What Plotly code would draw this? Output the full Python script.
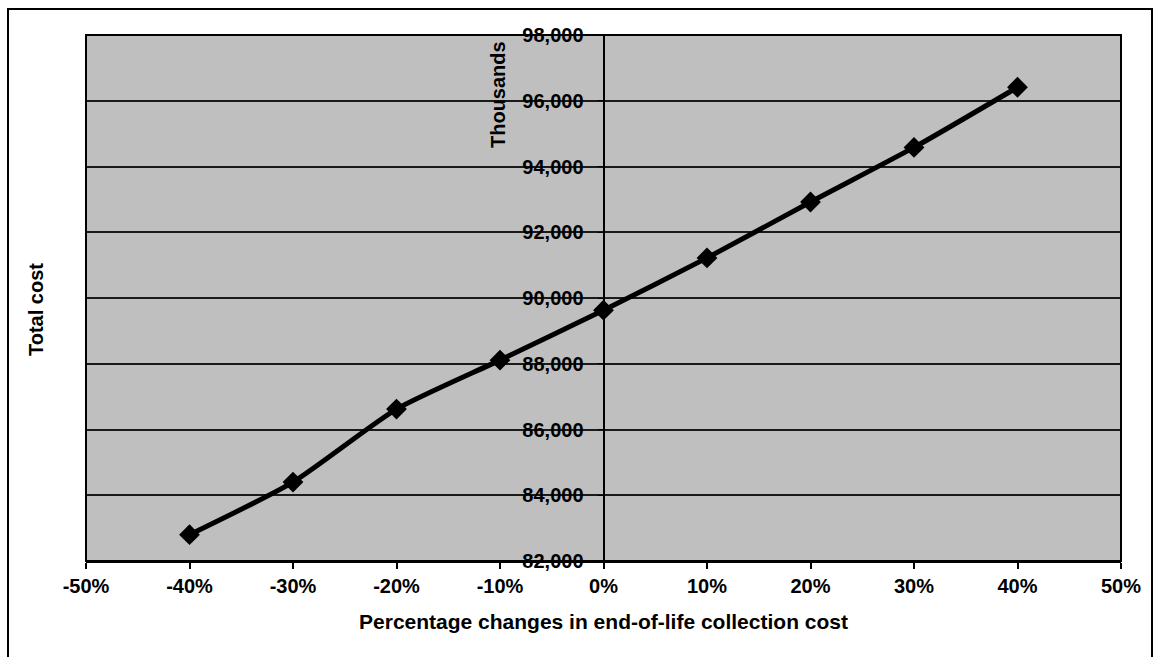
import plotly.graph_objects as go

# Sensitivity of total cost to changes in end-of-life collection cost
pct_change = [-0.40, -0.30, -0.20, -0.10, 0.00, 0.10, 0.20, 0.30, 0.40]
total_cost_thousands = [82800, 84400, 86620, 88110, 89630, 91220, 92920, 94580, 96410]

x_ticks = [-0.5, -0.4, -0.3, -0.2, -0.1, 0.0, 0.1, 0.2, 0.3, 0.4, 0.5]
x_tick_labels = ["-50%", "-40%", "-30%", "-20%", "-10%", "0%",
                 "10%", "20%", "30%", "40%", "50%"]
y_ticks = [82000, 84000, 86000, 88000, 90000, 92000, 94000, 96000, 98000]

W, H = 1156, 657
ML, MR, MT, MB = 86, 35, 35, 96
PW, PH = W - ML - MR, H - MT - MB

FONT = "Liberation Sans, Arial, sans-serif"


def px_to_paper_x(px):
    return (px - ML) / PW


def px_to_paper_y(py):
    return (H - MB - py) / PH


fig = go.Figure()
fig.add_trace(go.Scatter(
    x=pct_change,
    y=total_cost_thousands,
    mode="lines+markers",
    line=dict(color="black", width=5, shape="spline", smoothing=0.6),
    marker=dict(symbol="diamond", size=16, color="black"),
    showlegend=False,
    hoverinfo="x+y",
))

fig.update_layout(
    width=W,
    height=H,
    margin=dict(l=ML, r=MR, t=MT, b=MB),
    paper_bgcolor="white",
    plot_bgcolor="#bfbfbf",
    font=dict(family=FONT, size=20, color="black"),
    xaxis=dict(
        range=[-0.5, 0.5],
        tickvals=x_ticks,
        ticktext=x_tick_labels,
        showgrid=False,
        zeroline=False,
        showline=True,
        linecolor="black",
        linewidth=2,
        ticks="outside",
        ticklen=6,
        tickwidth=1.5,
        tickcolor="black",
        tickfont=dict(family=FONT, size=20, color="black", weight="bold"),
        title=dict(
            text="<b>Percentage changes in end-of-life collection cost</b>",
            font=dict(family=FONT, size=21, color="black"),
            standoff=18,
        ),
    ),
    yaxis=dict(
        range=[82000, 98000],
        tickvals=y_ticks,
        tickformat=",",
        anchor="free",
        position=0.5,
        showgrid=True,
        gridcolor="#1a1a1a",
        gridwidth=2,
        zeroline=False,
        showline=True,
        linecolor="black",
        linewidth=2,
        ticks="outside",
        ticklen=5,
        tickcolor="black",
        ticklabelstandoff=10,
        tickfont=dict(family=FONT, size=20, color="black", weight="bold"),
    ),
    shapes=[
        # plot-area border
        dict(type="rect", xref="paper", yref="paper", x0=0, x1=1, y0=0, y1=1,
             line=dict(color="black", width=2), layer="above"),
        # outer chart frame
        dict(type="rect", xref="paper", yref="paper",
             x0=px_to_paper_x(8), x1=px_to_paper_x(1152),
             y0=px_to_paper_y(700), y1=px_to_paper_y(9),
             line=dict(color="black", width=2), layer="above"),
    ],
    annotations=[
        dict(text="<b>Total cost</b>", textangle=-90,
             xref="paper", yref="paper",
             x=px_to_paper_x(36), y=px_to_paper_y(310),
             xanchor="center", yanchor="middle",
             showarrow=False, font=dict(family=FONT, size=20, color="black")),
        dict(text="<b>Thousands</b>", textangle=-90,
             xref="paper", yref="paper",
             x=px_to_paper_x(498), y=px_to_paper_y(95),
             xanchor="center", yanchor="middle",
             showarrow=False, font=dict(family=FONT, size=20, color="black")),
    ],
)

fig.write_html("out.html")
